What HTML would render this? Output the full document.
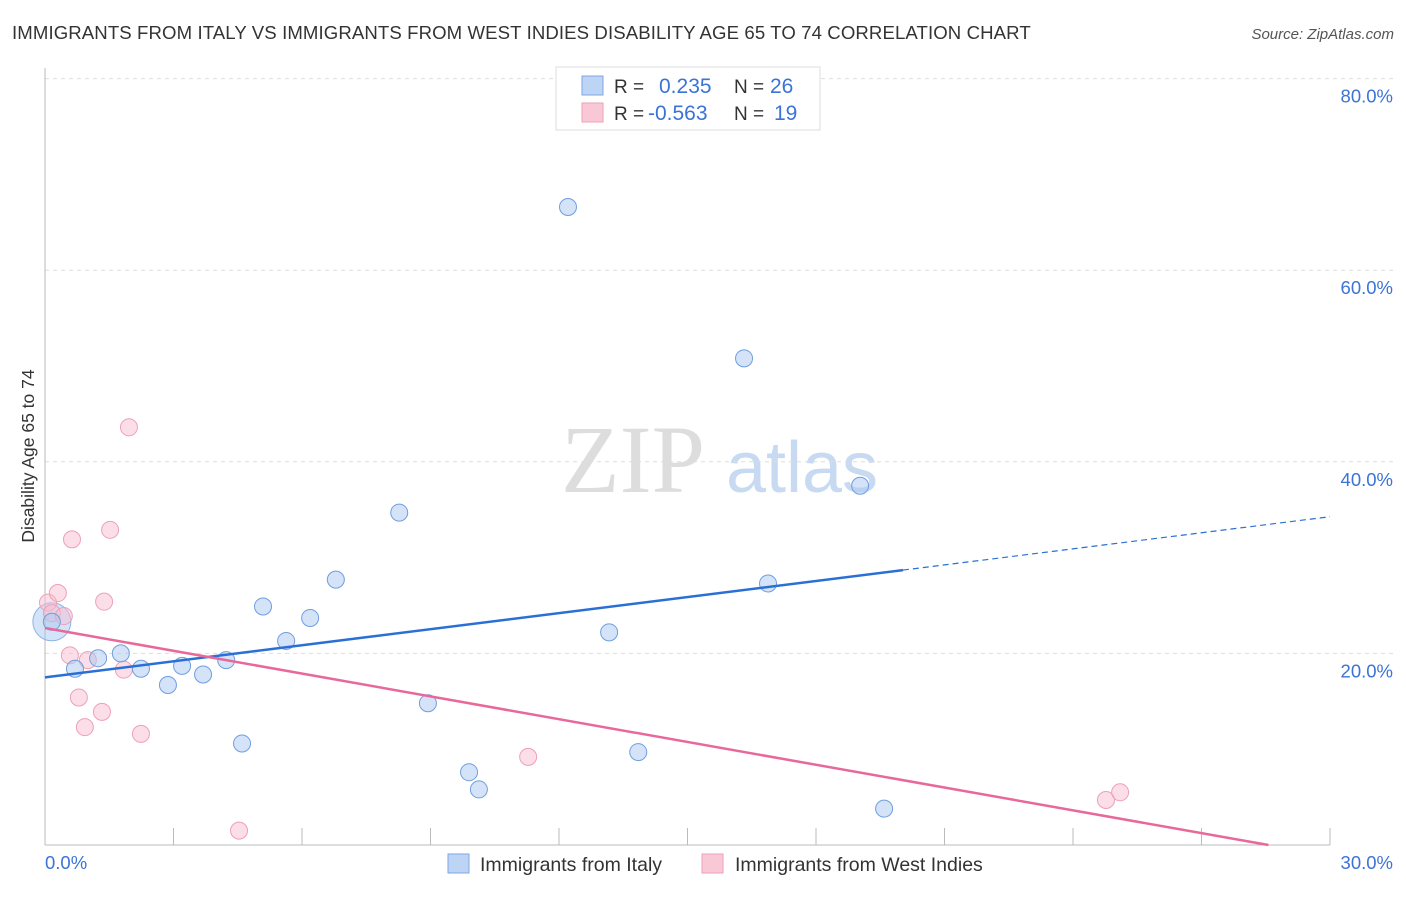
<!DOCTYPE html>
<html><head><meta charset="utf-8"><style>
body{margin:0;background:#fff;font-family:"Liberation Sans",sans-serif;}
svg text{font-family:"Liberation Sans",sans-serif;}
</style></head><body>
<svg id="c" width="1406" height="892" xmlns="http://www.w3.org/2000/svg">
<text x="12" y="39" font-size="18.6" fill="#333" letter-spacing="0.1">IMMIGRANTS FROM ITALY VS IMMIGRANTS FROM WEST INDIES DISABILITY AGE 65 TO 74 CORRELATION CHART</text>
<text x="1394" y="39" font-size="15" fill="#555" font-style="italic" text-anchor="end">Source: ZipAtlas.com</text>
<text x="34" y="456" font-size="17.5" fill="#333" text-anchor="middle" transform="rotate(-90 34 456)">Disability Age 65 to 74</text>
<g>
<text x="633" y="492" font-size="96" fill="#ddd" text-anchor="middle" font-family="Liberation Serif" style="font-family:'Liberation Serif',serif">ZIP</text>
<text x="802" y="492" font-size="72" fill="#c8daf2" text-anchor="middle">atlas</text>
</g>
<g id="grid"></g>
<g id="pts"></g>
<g id="lines"></g>
<g>
<rect x="556" y="67" width="264" height="63" fill="#fff" stroke="#ddd"/>
<rect x="582" y="76" width="21" height="19" fill="#bdd4f5" stroke="#7fa6e0"/>
<rect x="582" y="103" width="21" height="19" fill="#f9c8d6" stroke="#ec9fb6"/>
<text x="614" y="93" font-size="19" fill="#333">R =</text><text x="659" y="93" font-size="21" fill="#3b73d6">0.235</text>
<text x="734" y="93" font-size="19" fill="#333">N =</text><text x="770" y="93" font-size="21" fill="#3b73d6">26</text>
<text x="614" y="120" font-size="19" fill="#333">R =</text><text x="648" y="120" font-size="21" fill="#3b73d6">-0.563</text>
<text x="734" y="120" font-size="19" fill="#333">N =</text><text x="774" y="120" font-size="21" fill="#3b73d6">19</text>
</g>
<g>
<rect x="448" y="854" width="21" height="19" fill="#bdd4f5" stroke="#7fa6e0"/>
<text x="480" y="871" font-size="19.5" fill="#333">Immigrants from Italy</text>
<rect x="702" y="854" width="21" height="19" fill="#f9c8d6" stroke="#ec9fb6"/>
<text x="735" y="871" font-size="19.5" fill="#333">Immigrants from West Indies</text>
</g>
</svg>
<script>
const italyX=[0.16,0.70,1.24,1.77,2.24,2.87,3.20,3.69,4.23,4.60,5.09,5.63,6.19,6.79,8.27,8.94,9.90,10.13,12.21,13.17,13.85,16.32,16.88,19.03,19.59];
const italyY=[23.3,18.4,19.5,20.0,18.4,16.7,18.7,17.8,19.3,10.6,24.9,21.3,23.7,27.7,34.7,14.8,7.6,5.8,66.6,22.2,9.7,50.8,27.3,37.5,3.8];
const wiX=[0.07,0.16,0.30,0.44,0.63,0.58,0.79,0.93,1.00,1.33,1.38,1.52,1.84,1.96,2.24,4.53,11.28,24.77,25.10];
const wiY=[25.3,24.2,26.3,23.9,31.9,19.8,15.4,12.3,19.3,13.9,25.4,32.9,18.3,43.6,11.6,1.5,9.2,4.7,5.5];
const italyTrend=[17.5,0.559]; // intercept, slope
const wiTrend=[22.65,-0.793];
const yTicks=[20,40,60,80];
const xTickLabels=["0.0%","30.0%"];
const X0=45,X1=1330,Y0=845,PY=9.58;
const sx=v=>X0+v*(X1-X0)/30, sy=v=>Y0-v*PY;
const NS="http://www.w3.org/2000/svg";
function mk(t,a,p){const e=document.createElementNS(NS,t);for(const k in a)e.setAttribute(k,a[k]);p.appendChild(e);return e;}
const g=document.getElementById('grid');
yTicks.forEach(v=>{
 const l=mk('line',{x1:X0,x2:1393,y1:sy(v),y2:sy(v),stroke:'#ddd','stroke-dasharray':'4,4'},g);
 
 
 const t=mk('text',{x:1393,y:sy(v)+24,'font-size':18.5,fill:'#3b73d6','text-anchor':'end'},g);
 t.textContent=v.toFixed(1)+'%';
 
 
});
const ax=mk('line',{x1:X0,x2:X0,y1:68,y2:Y0,stroke:'#bbb'},g);


const bx=mk('line',{x1:X0,x2:X1,y1:Y0,y2:Y0,stroke:'#bbb'},g);


for(let i=1;i<=10;i++){const v=i*3;const t=mk('line',{x1:sx(v),x2:sx(v),y1:828,y2:Y0,stroke:'#bbb'},g);
 
 }
const xl=mk('text',{x:45,y:869,'font-size':18.5,fill:'#3b73d6'},g);xl.textContent=xTickLabels[0];


const xr=mk('text',{x:1393,y:869,'font-size':18.5,fill:'#3b73d6','text-anchor':'end'},g);xr.textContent=xTickLabels[1];


const p=document.getElementById('pts');
const big=mk('circle',{cx:sx(0.16),cy:sy(23.3),r:19,fill:'rgba(160,195,240,0.45)',stroke:'#8fb3e6'},p);


wiX.forEach((x,i)=>{const c=mk('circle',{cx:sx(x),cy:sy(wiY[i]),r:8.5,fill:'rgba(248,190,208,0.5)',stroke:'#eea0b8'},p);
 
 });
italyX.forEach((x,i)=>{const c=mk('circle',{cx:sx(x),cy:sy(italyY[i]),r:8.5,fill:'rgba(170,200,240,0.5)',stroke:'#6f9ee0'},p);
 
 });
const L=document.getElementById('lines');
const f=(t,x)=>t[0]+t[1]*x;
let a=mk('line',{x1:sx(0),y1:sy(f(italyTrend,0)),x2:sx(20.03),y2:sy(f(italyTrend,20.03)),stroke:'#2a6fd6','stroke-width':2.5},L);


a=mk('line',{x1:sx(20.03),y1:sy(f(italyTrend,20.03)),x2:sx(30),y2:sy(f(italyTrend,30)),stroke:'#2a6fd6','stroke-width':1.2,'stroke-dasharray':'6,4'},L);


const xe=-wiTrend[0]/wiTrend[1];
a=mk('line',{x1:sx(0),y1:sy(f(wiTrend,0)),x2:sx(xe),y2:sy(0),stroke:'#e8689a','stroke-width':2.5},L);


</script>
</body></html>
